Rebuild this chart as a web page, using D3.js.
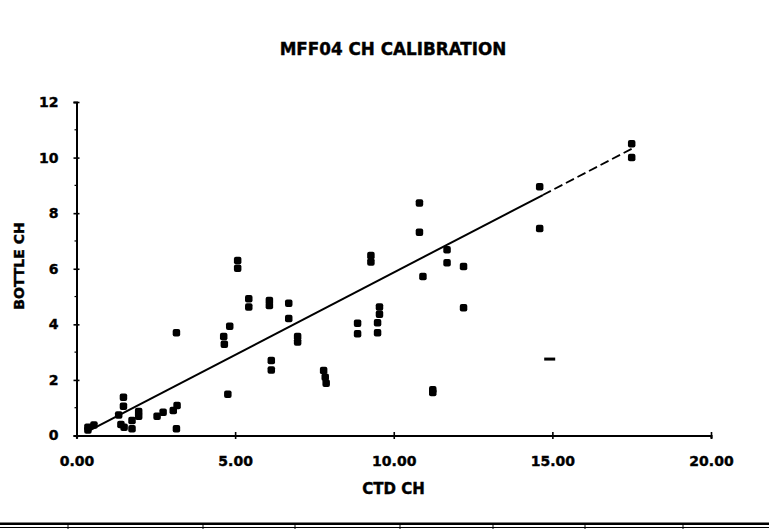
<!DOCTYPE html>
<html>
<head>
<meta charset="utf-8">
<script src="https://cdn.jsdelivr.net/npm/d3@7"></script>
<style>
  html, body { margin: 0; padding: 0; background: #fff; }
  svg { display: block; }
  text { font-family: "DejaVu Sans", sans-serif; font-weight: bold; fill: #000; stroke: #000; stroke-width: 0.4px; }
</style>
</head>
<body>
<svg id="chart" width="769" height="529"></svg>
<script>
// ---- data ----
const chartTitle = "MFF04 CH CALIBRATION";
const xLabel = "CTD CH";
const yLabel = "BOTTLE CH";
const xTicks = [0, 5, 10, 15, 20];
const yTicks = [0, 2, 4, 6, 8, 10, 12];
const yMinorTicks = [1, 3, 5, 7, 9, 11];
const ctdCH = [0.36,0.36,0.55,1.33,1.48,1.48,1.40,1.50,1.75,1.75,1.96,1.96,2.54,2.73,3.05,3.17,3.15,3.15,
  4.64,4.66,4.83,4.77,5.08,5.08,5.43,5.43,6.08,6.08,6.69,6.69,6.97,6.97,6.14,6.14,7.79,7.84,7.87,
  9.28,9.28,8.86,8.86,9.55,9.55,9.49,9.49,10.92,11.68,11.68,12.20,12.20,11.23,11.23,10.81,10.81,
  14.60,14.60,17.50,17.50];
const bottleCH = [0.30,0.20,0.38,0.74,1.38,1.05,0.40,0.30,0.54,0.24,0.86,0.69,0.69,0.84,0.90,1.08,0.24,3.70,
  3.56,3.28,3.93,1.48,6.30,6.02,4.92,4.62,4.86,4.68,4.76,4.21,3.56,3.36,2.70,2.36,2.34,2.10,1.88,
  6.48,6.24,4.04,3.66,4.62,4.36,4.06,3.70,5.72,6.68,6.22,6.08,4.60,1.65,1.55,8.37,7.31,
  8.95,7.45,10.50,10.00];
// stray partial mark near (14.9, 2.75)
const strayX = [14.9];
const strayY = [2.75];
// regression line
const fitSlope = 0.593;
const fitIntercept = -0.064;
const fitStart = 0.31, fitDashStart = 14.7, fitEnd = 17.5;

// ---- layout ----
const svg = d3.select("#chart");
const x = d3.scaleLinear().domain([0, 20]).range([76.5, 711]);
const y = d3.scaleLinear().domain([0, 12]).range([435.5, 102]);

// title
svg.append("text").attr("x", 393).attr("y", 55).attr("text-anchor", "middle")
  .style("font-size", "16.8px").text(chartTitle);

// y axis
const gy = svg.append("g").attr("transform", `translate(${x(0)},0)`)
  .call(d3.axisLeft(y).tickValues(yTicks).tickFormat(d3.format("d")).tickSize(3).tickPadding(15));
gy.select(".domain").attr("stroke", "#000").attr("stroke-width", 2);
gy.selectAll(".tick line").attr("x1", -3).attr("x2", 3).attr("stroke-width", 1.6);
gy.selectAll(".tick text").style("font-size", "14px").style("font-family", "DejaVu Sans").style("font-weight", "bold");
gy.selectAll(".minor").data(yMinorTicks).join("line").attr("class", "minor")
  .attr("x1", -2).attr("x2", 0).attr("y1", d => y(d)).attr("y2", d => y(d))
  .attr("stroke", "#000").attr("stroke-width", 1.2);

// x axis
const gx = svg.append("g").attr("transform", `translate(0,${y(0)})`)
  .call(d3.axisBottom(x).tickValues(xTicks).tickFormat(d3.format(".2f")).tickSize(3).tickPadding(18));
gx.select(".domain").attr("stroke", "#000").attr("stroke-width", 2.2);
gx.selectAll(".tick line").attr("y1", -3.5).attr("y2", 3.5).attr("stroke-width", 1.6);
gx.selectAll(".tick text").style("font-size", "14px").style("font-family", "DejaVu Sans").style("font-weight", "bold");

// axis titles
svg.append("text").attr("x", 393.5).attr("y", 494).attr("text-anchor", "middle")
  .style("font-size", "15px").text(xLabel);
svg.append("text").attr("transform", "translate(24,266) rotate(-90)").attr("text-anchor", "middle")
  .style("font-size", "14px").text(yLabel);

// regression line
const fy = v => fitSlope * v + fitIntercept;
svg.append("line").attr("x1", x(fitStart)).attr("y1", y(fy(fitStart)))
  .attr("x2", x(fitDashStart)).attr("y2", y(fy(fitDashStart)))
  .attr("stroke", "#000").attr("stroke-width", 2);
svg.append("line").attr("x1", x(fitDashStart)).attr("y1", y(fy(fitDashStart)))
  .attr("x2", x(fitEnd)).attr("y2", y(fy(fitEnd)))
  .attr("stroke", "#000").attr("stroke-width", 1.8).attr("stroke-dasharray", "9,4");

// points
const pts = ctdCH.map((c, i) => ({ c, b: bottleCH[i] }));
const ms = 7.5;
svg.append("g").selectAll("rect").data(pts).join("rect")
  .attr("x", d => x(d.c) - ms / 2).attr("y", d => y(d.b) - ms / 2)
  .attr("width", ms).attr("height", ms).attr("rx", 2).attr("fill", "#000");

// stray mark
svg.append("g").selectAll("rect").data(strayX.map((v, i) => ({ c: v, b: strayY[i] }))).join("rect")
  .attr("x", d => x(d.c) - 5).attr("y", d => y(d.b) - 1.5)
  .attr("width", 11).attr("height", 3).attr("fill", "#000");

// bottom rule (page border)
svg.append("rect").attr("x", 0).attr("y", 522.5).attr("width", 769).attr("height", 2.5).attr("fill", "#000");
svg.append("line").attr("x1", 0).attr("x2", 769).attr("y1", 527.5).attr("y2", 527.5)
  .attr("stroke", "#000").attr("stroke-width", 1);
const seps = [68, 203, 295, 400, 493, 585, 683];
svg.append("g").selectAll("line").data(seps).join("line")
  .attr("x1", d => d).attr("x2", d => d).attr("y1", 525).attr("y2", 529)
  .attr("stroke", "#000").attr("stroke-width", 1);
</script>
</body>
</html>
